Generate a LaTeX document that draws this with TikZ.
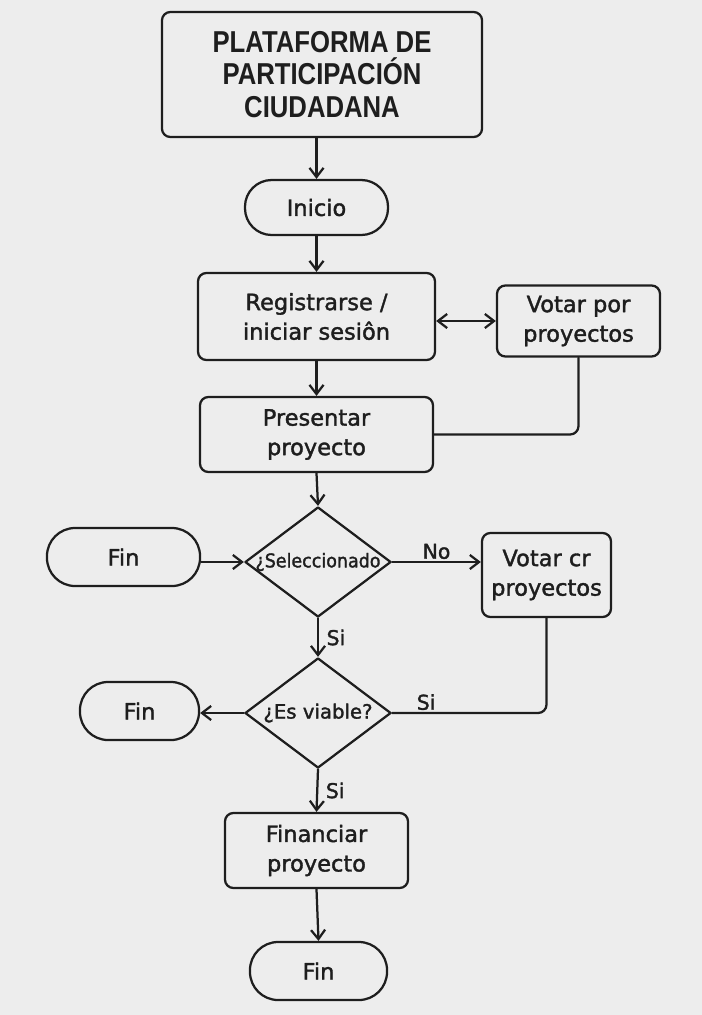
\documentclass[tikz,border=0pt]{standalone}
\usepackage{fontspec}
\setmainfont{DejaVu Sans}[FakeBold=1.6]
\newfontfamily\headfont[FakeStretch=0.85]{Liberation Sans}
\newfontfamily\narrowfont[FakeStretch=0.92,FakeBold=1.6]{DejaVu Sans}
\usepackage{tikz}
\usetikzlibrary{arrows.meta,shapes.geometric,positioning}
\definecolor{paper}{RGB}{237,237,237}
\definecolor{ink}{RGB}{30,30,30}
\tikzset{
  box/.style={draw=ink,line width=1.6pt,rounded corners=6pt,align=center,
    text=ink,inner sep=0pt,font=\fontsize{16}{21}\selectfont},
  proc/.style={box},
  term/.style={box,rounded corners=19pt},
  decision/.style={diamond,draw=ink,line width=1.6pt,inner sep=0pt,
    minimum width=3.65cm,minimum height=2.75cm},
  dtext/.style={text=ink,font=\fontsize{14}{16}\selectfont},
  lbl/.style={text=ink,font=\fontsize{14.5}{16}\selectfont},
  link/.style={draw=ink,line width=1.6pt,rounded corners=6pt},
  flow/.style={link,-{Straight Barb[length=6.5pt,width=10pt]}},
  flowboth/.style={link,{Straight Barb[length=6.5pt,width=10pt]}-{Straight Barb[length=6.5pt,width=10pt]}}
}

\begin{document}
\begin{tikzpicture}[x=0.025cm,y=-0.025cm,line cap=round,line join=round]
  % Page
  \fill[paper] (0,0) rectangle (702,1015);
  \useasboundingbox (0,0) rectangle (702,1015);

  % Main column
  \node[proc,minimum width=8cm,minimum height=3.125cm,
        font=\headfont\bfseries\fontsize{21.5}{23}\selectfont]
       (title) at (322,74.5) {PLATAFORMA DE\\PARTICIPACIÓN\\CIUDADANA};
  \node[term,minimum width=3.575cm,minimum height=1.375cm] (inicio) at (316.5,207.5) {Inicio};
  \node[proc,minimum width=5.925cm,minimum height=2.175cm] (registro) at (316.5,316.5) {Registrarse /\\iniciar sesiôn};
  \node[proc,minimum width=5.825cm,minimum height=1.875cm] (presentar) at (316.5,434.5) {Presentar\\proyecto};
  \node[decision,label={[dtext,font=\narrowfont\fontsize{13.5}{16}\selectfont]center:¿Seleccionado}] (selec) at (318,562) {};
  \node[decision,label={[dtext]center:¿Es viable?}] (viable) at (318,713) {};
  \node[proc,minimum width=4.575cm,minimum height=1.875cm] (financiar) at (316.5,850.5) {Financiar\\proyecto};
  \node[term,minimum width=3.425cm,minimum height=1.45cm,rounded corners=20pt] (fin3) at (318.5,971) {Fin};

  % Side nodes
  \node[proc,minimum width=4.075cm,minimum height=1.775cm] (votar1) at (578.5,321) {Votar por\\proyectos};
  \node[term,minimum width=3.825cm,minimum height=1.45cm,rounded corners=20pt] (fin1) at (123.5,557) {Fin};
  \node[proc,minimum width=3.225cm,minimum height=2.1cm] (votar2) at (546.5,575) {Votar cr\\proyectos};
  \node[term,minimum width=2.975cm,minimum height=1.45cm,rounded corners=20pt] (fin2) at (139.5,711) {Fin};

  % Connectors
  \draw[flow] (title.south -| inicio.north) -- (inicio.north);
  \draw[flow] (inicio.south) -- (registro.north);
  \draw[flowboth] (registro.east |- votar1.west) -- (votar1.west);
  \draw[flow] (registro.south) -- (presentar.north);
  \draw[link] (votar1.south) |- (presentar.east);
  \draw[flow] (presentar.south) -- (selec.north);
  \draw[flow] (fin1.east |- selec.west) -- (selec.west);
  \draw[flow] (selec.east) -- (selec.east -| votar2.west)
    node[lbl,midway,above,yshift=-2pt] {No};
  \draw[flow] (selec.south) -- (viable.north)
    node[lbl,midway,right,xshift=2pt] {Si};
  \draw[link] (votar2.south) |- (viable.east)
    node[lbl,pos=0.89,above,yshift=-2pt] {Si};
  \draw[flow] (viable.west) -- (viable.west -| fin2.east);
  \draw[flow] (viable.south) -- (financiar.north)
    node[lbl,midway,right,xshift=2pt] {Si};
  \draw[flow] (financiar.south) -- (fin3.north);

\end{tikzpicture}
\end{document}
